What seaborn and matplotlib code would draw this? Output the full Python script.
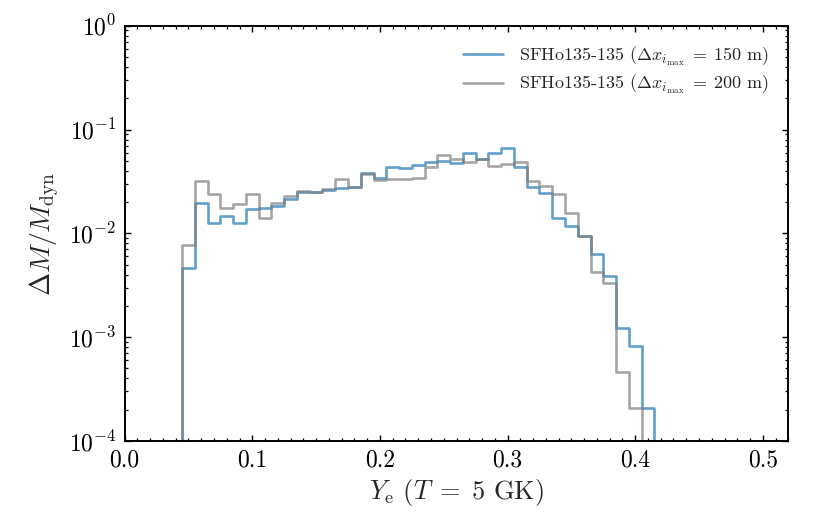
import numpy as np
import pandas as pd
import seaborn as sns
import matplotlib
matplotlib.use("Agg")
import matplotlib.pyplot as plt
from matplotlib.ticker import MultipleLocator, LogLocator, NullFormatter

# ---- data ----
first_edge = 0.045
bin_width = 0.01

# SFHo135-135, dx = 150 m (blue), bins 0.045 .. 0.415
ye_blue = [0.00467, 0.0195, 0.01265, 0.0146, 0.01265, 0.0173, 0.0175, 0.0183,
           0.0214, 0.025, 0.025, 0.0261, 0.0275, 0.0281, 0.0385, 0.0339,
           0.0438, 0.0426, 0.0455, 0.0483, 0.0498, 0.0472, 0.059, 0.0516,
           0.0598, 0.0659, 0.0432, 0.0277, 0.0243, 0.0139, 0.0118, 0.0094,
           0.00628, 0.00388, 0.00122, 0.00082, 0.000209]

# SFHo135-135, dx = 200 m (grey), bins 0.045 .. 0.405
ye_grey = [0.0077, 0.0321, 0.0239, 0.0177, 0.019, 0.0238, 0.0140, 0.0196,
           0.023, 0.0256, 0.025, 0.0269, 0.0331, 0.0281, 0.037, 0.0327,
           0.0331, 0.0331, 0.0339, 0.0432, 0.0568, 0.0516, 0.0486, 0.0516,
           0.0445, 0.0462, 0.0483, 0.0319, 0.0286, 0.0238, 0.0156, 0.0094,
           0.00427, 0.00334, 0.000458, 0.000209]

labels = [r"SFHo135-135 ($\Delta x_{i_{\rm max}}\;=\;150$ m)",
          r"SFHo135-135 ($\Delta x_{i_{\rm max}}\;=\;200$ m)"]
xticks = [0.0, 0.1, 0.2, 0.3, 0.4, 0.5]

sns.set_theme(style="ticks")
plt.rcParams.update({
    "font.family": "serif",
    "font.serif": ["cmr10", "DejaVu Serif"],
    "mathtext.fontset": "cm",
    "axes.formatter.use_mathtext": True,
    "axes.unicode_minus": True,
    "axes.linewidth": 1.4,
    "xtick.direction": "in",
    "ytick.direction": "in",
    "xtick.top": True,
    "ytick.right": True,
    "xtick.major.size": 4.5,
    "ytick.major.size": 4.5,
    "xtick.minor.size": 2.2,
    "ytick.minor.size": 2.2,
    "xtick.major.width": 1.0,
    "ytick.major.width": 1.0,
    "xtick.minor.width": 0.9,
    "ytick.minor.width": 0.9,
    "xtick.color": "black",
    "ytick.color": "black",
    "axes.edgecolor": "black",
})


def step_frame(vals):
    vals = np.asarray(vals, dtype=float)
    edges = first_edge + bin_width * np.arange(len(vals) + 1)
    xs = np.repeat(edges, 2)
    ys = np.concatenate([[1e-6], np.repeat(vals, 2), [1e-6]])
    return pd.DataFrame({"Ye": xs, "dM": ys, "order": np.arange(len(xs))})


fig = plt.figure(figsize=(8.3, 5.19), dpi=100)
ax = fig.add_axes([0.1502, 0.1503, 0.7996, 0.8002])

for vals, col, lab in [(ye_blue, "#1f77b4", labels[0]), (ye_grey, "grey", labels[1])]:
    df = step_frame(vals)
    sns.lineplot(data=df, x="Ye", y="dM", sort=False, estimator=None,
                 color=col, alpha=0.7, lw=1.9, label=lab, ax=ax)

ax.set_yscale("log")
ax.set_ylim(1e-4, 1)
ax.set_xlim(0, 0.52)
ax.set_xticks(xticks)
ax.set_xticklabels([f"{t:.1f}" for t in xticks])
ax.xaxis.set_minor_locator(MultipleLocator(0.01))
ax.yaxis.set_major_locator(LogLocator(base=10, numticks=10))
ax.yaxis.set_minor_locator(LogLocator(base=10, subs=np.arange(2, 10), numticks=20))
ax.yaxis.set_minor_formatter(NullFormatter())
ax.tick_params(axis="both", which="major", labelsize=17, pad=6)

ax.set_xlabel(r"$Y_{\rm e}$ ($T\;=\;5$ GK)", fontsize=19, labelpad=4)
ax.set_ylabel(r"$\Delta M / M_{\rm dyn}$", fontsize=20, labelpad=6)

leg = ax.legend(loc="upper right", frameon=False, fontsize=13,
                handlelength=2.2, handletextpad=0.9, labelspacing=0.28,
                borderaxespad=0.65)

fig.savefig("out.png", dpi=100)
